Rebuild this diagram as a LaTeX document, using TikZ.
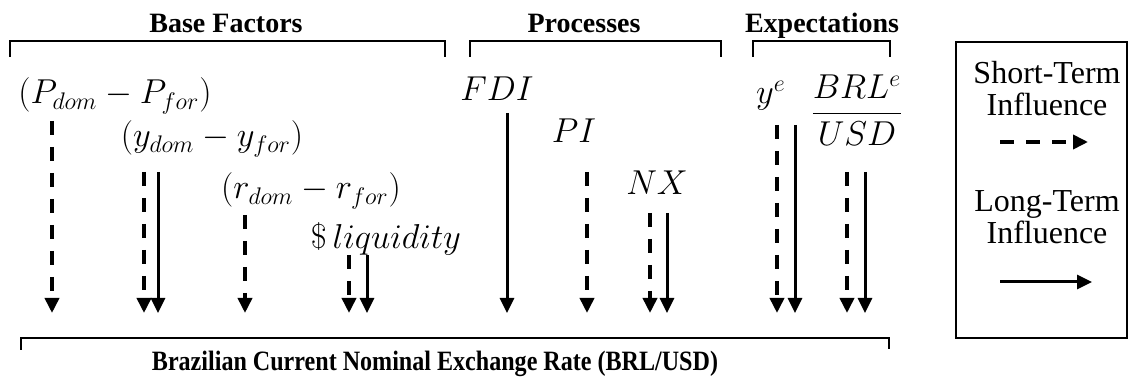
\documentclass[tikz,border=0pt]{standalone}
\usepackage{amsmath}
\usepackage{fontspec}
\setmainfont{Liberation Serif}
\usetikzlibrary{positioning}
\usetikzlibrary{arrows.meta}
\tikzset{>={Triangle[width=7pt,length=7.5pt]}}
\tikzset{hd/.style={anchor=base,inner sep=0pt,font=\fontsize{14}{16}\selectfont\bfseries}}
\tikzset{vr/.style={anchor=base,inner sep=0pt,font=\fontsize{16.5}{18}\selectfont}}
\tikzset{lg/.style={align=center,inner sep=0pt,font=\fontsize{16}{16}\selectfont}}
\tikzset{st/.style={->,line width=1.8pt,dash pattern=on 7pt off 6pt}}
\tikzset{lt/.style={->,line width=1.5pt}}
\tikzset{br/.style={line width=0.6pt}}

\begin{document}
\begin{tikzpicture}[x=0.5pt,y=-0.5pt]
\useasboundingbox (0,0) rectangle (1129,378);

% group headers
\node[hd] (basef) at (226,33) {Base Factors};
\node[hd] (proc) at (584,33) {Processes};
\node[hd] (expc) at (822,33) {Expectations};
\draw[br] (10,57) -- (10,41) -- (445,41) -- (445,57);
\draw[br] (470,57) -- (470,41) -- (721,41) -- (721,57);
\draw[br] (753,57) -- (753,41) -- (890,41) -- (890,57);

% variables
\node[vr] (pdiff) at (115,104) {$(P_{dom}-P_{for})$};
\node[vr] (ydiff) at (212,147) {$(y_{dom}-y_{for})$};
\node[vr] (rdiff) at (311,199) {$(r_{dom}-r_{for})$};
\node[vr] (liq) at (386,249) {$\$\,liquidity$};
\node[vr] (fdi) at (497,101) {$FDI$};
\node[vr] (pi) at (574,143) {$PI$};
\node[vr] (nx) at (657,195) {$NX$};
\node[vr] (ye) at (771,104) {$y^{e}$};
\node[vr] (brl) at (857,122) {$\dfrac{BRL^{e}}{USD}$};

% rate
\node[hd] (rate) at (435,371) {\scalebox{0.86}[1]{Brazilian Current Nominal Exchange Rate (BRL/USD)}};
\draw[br] (21,350) -- (21,338) -- (889,338) -- (889,349);
\coordinate (tgt) at (0,313);

% arrow starts
\coordinate (p1) at (52,121);
\coordinate (y1) at (144,172);
\coordinate (y2) at (158,172);
\coordinate (r1) at (245,215);
\coordinate (l1) at (349,255);
\coordinate (l2) at (367,255);
\coordinate (f2) at (507,113);
\coordinate (pi1) at (587,172);
\coordinate (n1) at (650,213);
\coordinate (n2) at (667,213);
\coordinate (e1) at (777,125);
\coordinate (e2) at (795,125);
\coordinate (b1) at (847,172);
\coordinate (b2) at (865,172);

\draw[st] (p1) -- (p1 |- tgt);
\draw[st] (y1) -- (y1 |- tgt);
\draw[lt] (y2) -- (y2 |- tgt);
\draw[st] (r1) -- (r1 |- tgt);
\draw[st] (l1) -- (l1 |- tgt);
\draw[lt] (l2) -- (l2 |- tgt);
\draw[lt] (f2) -- (f2 |- tgt);
\draw[st] (pi1) -- (pi1 |- tgt);
\draw[st] (n1) -- (n1 |- tgt);
\draw[lt] (n2) -- (n2 |- tgt);
\draw[st] (e1) -- (e1 |- tgt);
\draw[lt] (e2) -- (e2 |- tgt);
\draw[st] (b1) -- (b1 |- tgt);
\draw[lt] (b2) -- (b2 |- tgt);

% legend
\draw[line width=1.3pt] (956,42) rectangle (1127,338);
\node[lg] (shortlbl) at (1047,89) {Short-Term\\Influence};
\node[lg] (longlbl) at (1047,217) {Long-Term\\Influence};
\coordinate (sa) at (1000,142);
\coordinate (sb) at (1088,142);
\coordinate (la) at (1000,282);
\coordinate (lb) at (1092,282);
\draw[st] (sa) -- (sb);
\draw[lt] (la) -- (lb);
\end{tikzpicture}
\end{document}
